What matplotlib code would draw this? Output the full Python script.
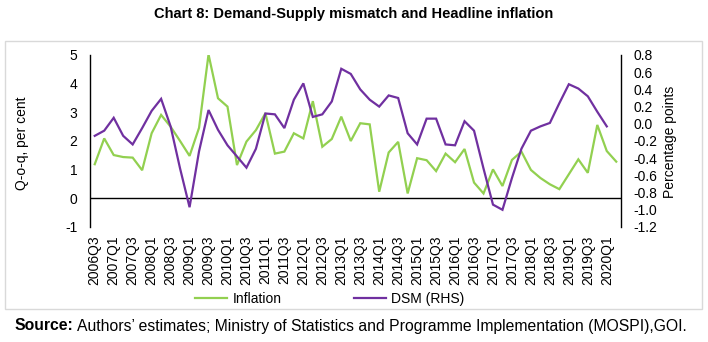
import matplotlib
matplotlib.use("Agg")
import matplotlib.pyplot as plt
from matplotlib.patches import Rectangle
from matplotlib.lines import Line2D

plt.rcParams['font.family'] = ['Liberation Sans', 'DejaVu Sans']

# Quarterly labels, 2006Q3 .. 2020Q2
quarters = [f"{y}Q{q}" for y in range(2006, 2021) for q in range(1, 5)]
quarters = quarters[quarters.index("2006Q3"):quarters.index("2020Q2") + 1]

# Headline inflation, q-o-q per cent (left axis)
inflation = [1.19, 2.09, 1.51, 1.44, 1.42, 0.98, 2.27, 2.91, 2.50, 2.00,
             1.48, 2.46, 5.02, 3.49, 3.20, 1.16, 1.98, 2.38, 2.97, 1.56,
             1.63, 2.27, 2.09, 3.39, 1.80, 2.07, 2.85, 2.00, 2.62, 2.58,
             0.23, 1.60, 1.97, 0.17, 1.40, 1.33, 0.95, 1.56, 1.26, 1.72,
             0.55, 0.17, 1.01, 0.43, 1.34, 1.63, 0.99, 0.71, 0.49, 0.32,
             0.84, 1.36, 0.89, 2.56, 1.65, 1.28]

# Demand-supply mismatch, percentage points (right axis), to 2020Q1
dsm = [-0.14, -0.08, 0.07, -0.14, -0.24, -0.05, 0.15, 0.29, -0.03, -0.52,
       -0.97, -0.32, 0.16, -0.07, -0.25, -0.38, -0.51, -0.29, 0.12, 0.11,
       -0.05, 0.28, 0.47, 0.08, 0.11, 0.26, 0.64, 0.58, 0.40, 0.28,
       0.20, 0.33, 0.30, -0.11, -0.24, 0.06, 0.06, -0.24, -0.25, 0.03,
       -0.08, -0.52, -0.94, -1.00, -0.63, -0.29, -0.08, -0.03, 0.01, 0.24,
       0.46, 0.41, 0.32, 0.14, -0.03]

left_ticks = [-1, 0, 1, 2, 3, 4, 5]
right_ticks = [-1.2, -1.0, -0.8, -0.6, -0.4, -0.2, 0.0, 0.2, 0.4, 0.6, 0.8]

GREEN = "#92D050"
PURPLE = "#7030A0"
W, H = 708, 342

fig = plt.figure(figsize=(W / 100, H / 100), dpi=100)

# outer chart frame
fig.patches.append(Rectangle((5 / W, 1 - 309 / H), 697 / W, 268 / H,
                             transform=fig.transFigure, fill=False,
                             edgecolor="#D9D9D9", lw=1.0))

ax = fig.add_axes([90 / W, 1 - 227 / H, 531 / W, 172 / H])
ax2 = ax.twinx()

x = list(range(len(quarters)))
ax.plot(x, inflation, color=GREEN, lw=1.6, solid_joinstyle="miter", zorder=3)
ax2.plot(x[:len(dsm)], dsm, color=PURPLE, lw=1.6, solid_joinstyle="miter", zorder=3)

ax.set_xlim(-0.5, len(quarters) - 0.5)
ax.set_ylim(-1, 5)
ax2.set_ylim(-1.2, 0.8)
ax.axhline(0, color="black", lw=1.0, zorder=2)

for a in (ax, ax2):
    for s in ("top", "bottom"):
        a.spines[s].set_visible(False)
ax.spines["left"].set_visible(True)
ax.spines["right"].set_visible(False)
ax2.spines["left"].set_visible(False)
ax2.spines["right"].set_visible(True)
ax.spines["left"].set_linewidth(1.0)
ax2.spines["right"].set_linewidth(1.0)

ax.set_xticks(x[::2])
ax.set_xticklabels(quarters[::2], rotation=90, fontsize=10)
ax.tick_params(axis="x", length=0, pad=6)

ax.set_yticks(left_ticks)
ax.set_yticklabels([str(v) for v in left_ticks], fontsize=10)
ax.tick_params(axis="y", length=0, pad=9)

ax2.set_yticks(right_ticks)
ax2.set_yticklabels([f"{v:.1f}" for v in right_ticks], fontsize=10)
ax2.tick_params(axis="y", length=0, pad=9)

fig.text(22 / W, 1 - 143 / H, "Q-o-q, per cent", rotation=90,
         ha="center", va="center", fontsize=10)
fig.text(670 / W, 1 - 142 / H, "Percentage points", rotation=90,
         ha="center", va="center", fontsize=10)

handles = [Line2D([], [], color=GREEN, lw=1.6),
           Line2D([], [], color=PURPLE, lw=1.6)]
fig.legend(handles, ["Inflation", "DSM (RHS)"], loc="center",
           bbox_to_anchor=(330 / W, 1 - 299 / H), ncol=2, frameon=False,
           fontsize=10, handlelength=2.3, handletextpad=0.4,
           columnspacing=5.2)

fig.text(0.5, 1 - 14 / H, "Chart 8: Demand-Supply mismatch and Headline inflation",
         ha="center", va="center", fontsize=10.5, fontweight="bold")

src_y = 1 - 326 / H
t1 = fig.text(14 / W, src_y, "Source:", ha="left", va="center",
              fontsize=11.3, fontweight="bold")
fig.canvas.draw()
bb = t1.get_window_extent()
fig.text((bb.x1 + 4) / W, src_y,
         "Authors\u2019 estimates; Ministry of Statistics and Programme Implementation (MOSPI),GOI.",
         ha="left", va="center", fontsize=11.3)

fig.savefig("out.png", dpi=100)
